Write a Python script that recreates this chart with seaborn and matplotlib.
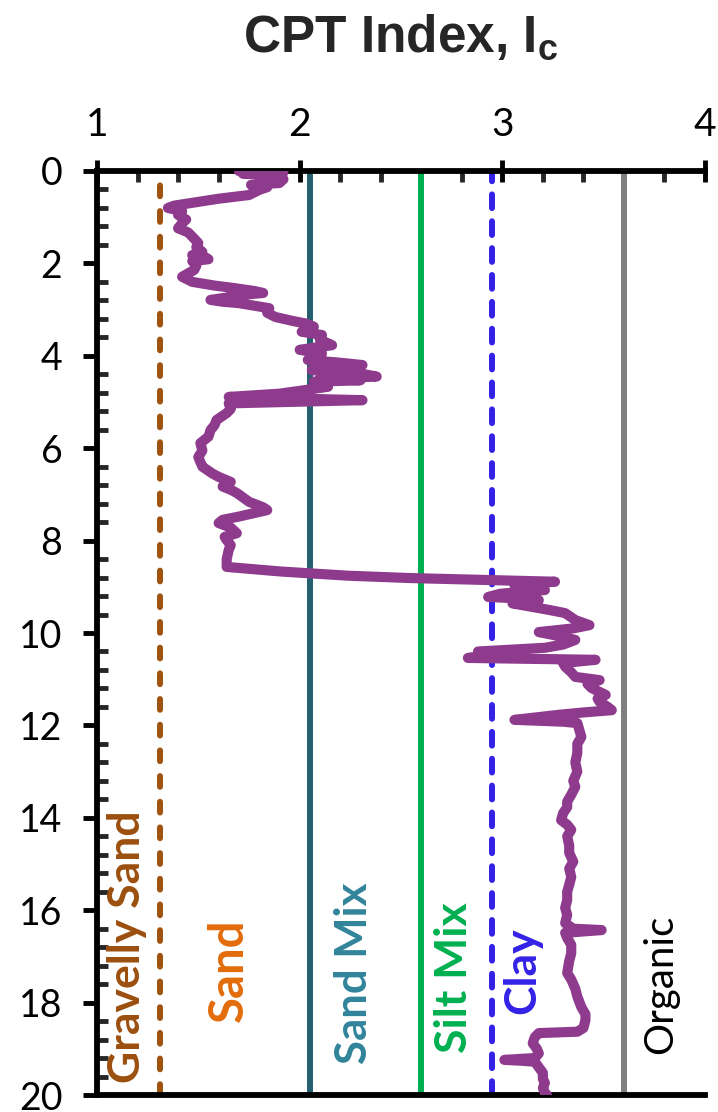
import matplotlib
matplotlib.use("Agg")
import matplotlib.pyplot as plt
import seaborn as sns
import pandas as pd
from matplotlib.ticker import MultipleLocator

# ---- data ----
depth = [0.00, 0.03, 0.06, 0.09, 0.12, 0.18, 0.26, 0.30, 0.35, 0.41, 0.52, 0.60, 0.69, 0.75, 0.80,
         0.87, 0.95, 1.05, 1.13, 1.24, 1.33, 1.42, 1.56, 1.65, 1.75, 1.82, 1.88, 1.91, 1.95, 2.05,
         2.14, 2.29, 2.40, 2.48, 2.53, 2.60, 2.64, 2.68, 2.72, 2.79, 2.83, 2.86, 2.97, 3.07, 3.16,
         3.25, 3.30, 3.37, 3.43, 3.48, 3.55, 3.65, 3.77, 3.82, 3.87, 3.95, 4.02, 4.09, 4.15, 4.20,
         4.25, 4.28, 4.31, 4.36, 4.40, 4.45, 4.50, 4.53, 4.56, 4.62, 4.67, 4.74, 4.82, 4.89, 4.96,
         5.03, 5.15, 5.24, 5.30, 5.39, 5.50, 5.61, 5.75, 5.89, 6.05, 6.19, 6.30, 6.40, 6.55, 6.62,
         6.73, 6.83, 6.90, 6.97, 7.16, 7.28, 7.34, 7.40, 7.48, 7.55, 7.62, 7.72, 7.84, 7.92, 7.99,
         8.10, 8.20, 8.40, 8.57, 8.67, 8.76, 8.81, 8.85, 8.89, 8.96, 9.02, 9.07, 9.15, 9.22, 9.25,
         9.29, 9.36, 9.50, 9.57, 9.72, 9.83, 9.90, 9.98, 10.05, 10.15, 10.25, 10.32, 10.40, 10.50,
         10.54, 10.58, 10.65, 10.73, 10.85, 10.95, 11.02, 11.10, 11.19, 11.34, 11.42, 11.49, 11.60,
         11.67, 11.72, 11.77, 11.88, 11.92, 11.95, 12.10, 12.25, 12.40, 12.60, 12.80, 13.00, 13.20,
         13.33, 13.50, 13.65, 13.77, 13.90, 14.05, 14.15, 14.26, 14.40, 14.60, 14.76, 14.95, 15.10,
         15.28, 15.45, 15.60, 15.78, 15.95, 16.10, 16.28, 16.40, 16.43, 16.46, 16.49, 16.60, 16.75,
         16.93, 17.10, 17.36, 17.50, 17.70, 17.87, 18.10, 18.25, 18.38, 18.55, 18.63, 18.66, 18.75,
         18.88, 19.00, 19.10, 19.20, 19.24, 19.26, 19.28, 19.40, 19.52, 19.65, 19.74, 19.85, 19.95,
         20.00]
ic = [1.70, 1.92, 1.72, 1.90, 1.80, 1.92, 1.90, 1.76, 1.84, 1.80, 1.75, 1.60, 1.47, 1.38, 1.35,
      1.42, 1.40, 1.44, 1.42, 1.40, 1.45, 1.47, 1.50, 1.49, 1.52, 1.47, 1.54, 1.55, 1.47, 1.49,
      1.48, 1.42, 1.47, 1.58, 1.67, 1.78, 1.82, 1.72, 1.67, 1.56, 1.62, 1.70, 1.85, 1.84, 1.88,
      1.97, 2.03, 2.07, 2.05, 2.01, 2.11, 2.10, 2.16, 2.08, 2.00, 2.11, 2.08, 2.04, 2.20, 2.31,
      2.10, 2.28, 2.06, 2.25, 2.32, 2.38, 2.10, 2.30, 2.07, 2.12, 2.14, 2.03, 1.90, 1.65, 2.31,
      1.65, 1.66, 1.64, 1.62, 1.59, 1.58, 1.56, 1.55, 1.51, 1.52, 1.50, 1.51, 1.52, 1.57, 1.60,
      1.66, 1.62, 1.66, 1.69, 1.75, 1.82, 1.84, 1.78, 1.70, 1.62, 1.60, 1.66, 1.69, 1.63, 1.64,
      1.66, 1.65, 1.64, 1.64, 1.91, 2.24, 2.54, 2.90, 3.26, 3.06, 3.20, 3.21, 2.99, 2.93, 3.08,
      3.18, 3.05, 3.23, 3.31, 3.36, 3.43, 3.35, 3.18, 3.26, 3.36, 3.30, 3.21, 2.88, 2.90,
      2.83, 3.46, 3.30, 3.31, 3.34, 3.36, 3.48, 3.42, 3.44, 3.51, 3.47, 3.48, 3.52,
      3.54, 3.40, 3.28, 3.06, 3.30, 3.37, 3.38, 3.39, 3.37, 3.37, 3.36, 3.37, 3.35,
      3.36, 3.34, 3.32, 3.32, 3.30, 3.29, 3.32, 3.34, 3.32, 3.33, 3.33, 3.35, 3.33,
      3.34, 3.33, 3.32, 3.32, 3.31, 3.32, 3.31, 3.35, 3.49, 3.40, 3.31, 3.32, 3.34,
      3.34, 3.33, 3.32, 3.34, 3.36, 3.37, 3.39, 3.41, 3.41, 3.40, 3.37, 3.18, 3.16,
      3.15, 3.17, 3.18, 3.16, 3.01, 3.10, 3.16, 3.18, 3.20, 3.20, 3.21, 3.20, 3.21,
      3.22]

zone_names = ["Gravelly Sand", "Sand", "Sand Mix", "Silt Mix", "Clay", "Organic"]
boundaries = [1.31, 2.05, 2.60, 2.95, 3.60]
x_ticks = [1, 2, 3, 4]
y_ticks = [0, 2, 4, 6, 8, 10, 12, 14, 16, 18, 20]

# ---- styling ----
sns.set_theme(style="white")
plt.rcParams["font.family"] = ["Lato", "DejaVu Sans"]
plt.rcParams["mathtext.fontset"] = "custom"
plt.rcParams["mathtext.bf"] = "Liberation Sans:bold"
plt.rcParams["mathtext.rm"] = "Liberation Sans:bold"

fig = plt.figure(figsize=(7.18, 11.12), dpi=100)
ax = fig.add_axes([97/718, 1 - 1095/1112, (705 - 97)/718, (1095 - 171)/1112])

df = pd.DataFrame({"Ic": ic, "Depth": depth})
sns.lineplot(data=df, x="Ic", y="Depth", sort=False, estimator=None, ax=ax,
             color="#8E3B8E", lw=7.3, solid_joinstyle="round", solid_capstyle="round", zorder=3)

line_styles = [
    dict(color="#A0530F", ls=(0, (1.8, 2.5)), dash_capstyle="round"),
    dict(color="#24606F", ls="-"),
    dict(color="#00B050", ls="-"),
    dict(color="#3322E6", ls=(0, (2.3, 2.2)), dash_capstyle="round"),
    dict(color="#808080", ls="-"),
]
for b, st in zip(boundaries, line_styles):
    ax.axvline(b, lw=4.3, zorder=2, **st)

ax.set_xlim(1, 4)
ax.set_ylim(20, 0)
ax.set_xticks(x_ticks)
ax.set_yticks(y_ticks)
ax.xaxis.set_minor_locator(MultipleLocator(0.2))
ax.yaxis.set_minor_locator(MultipleLocator(0.4))
ax.xaxis.tick_top()
ax.set_xlabel("")
ax.set_ylabel("")

for s in ["top", "left", "bottom"]:
    ax.spines[s].set_visible(True)
    ax.spines[s].set_linewidth(4.2)
    ax.spines[s].set_color("black")
ax.spines["right"].set_visible(False)

ax.tick_params(axis="x", which="major", direction="inout", length=16, width=3.5,
               labelsize=28, pad=12, colors="black", top=True, bottom=False)
ax.tick_params(axis="x", which="minor", direction="in", length=8, width=3.5,
               top=True, bottom=False)
ax.tick_params(axis="y", which="major", direction="out", length=10, width=3.5,
               labelsize=27, pad=15, colors="black", left=True)
ax.tick_params(axis="y", which="minor", direction="in", length=8, width=3.5, left=True)

# zone labels
label_pos = [(1.147, 16.8), (1.65, 17.3), (2.27, 17.36), (2.76, 17.45), (3.10, 17.3), (3.78, 17.6)]
label_colors = ["#9C4F0E", "#E36C0A", "#31849B", "#00B050", "#3322E6", "black"]
label_weights = ["bold", "bold", "bold", "bold", "bold", "normal"]
label_sizes = [32, 34, 31.5, 32, 32, 29]
for name, (lx, ly), c, w, fs in zip(zone_names, label_pos, label_colors, label_weights, label_sizes):
    ax.text(lx, ly, name, rotation=90, ha="center", va="center", color=c,
            fontsize=fs, fontweight=w, zorder=4)

fig.text(401/718, 1 - 52/1112, r"CPT Index, $\mathbf{I_c}$", ha="center", va="baseline",
         fontsize=37, fontweight="bold", family="Liberation Sans")

fig.savefig("out.png", dpi=100)
